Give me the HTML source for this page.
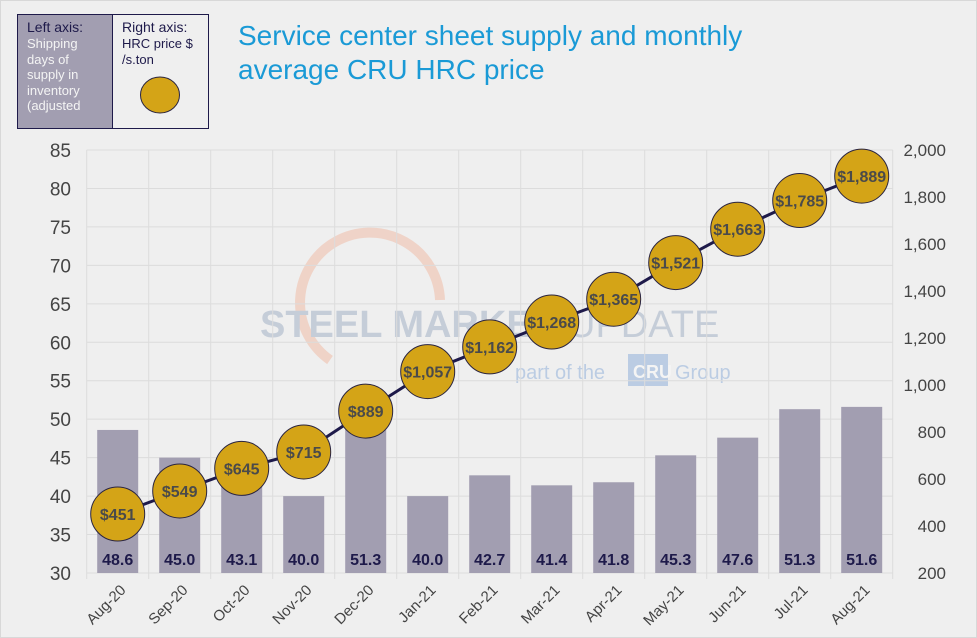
<!DOCTYPE html>
<html><head><meta charset="utf-8"><style>
body{margin:0;background:#efefef;width:977px;height:638px;overflow:hidden;font-family:"Liberation Sans",sans-serif}
</style></head><body>
<svg width="977" height="638" xmlns="http://www.w3.org/2000/svg" style="position:absolute;left:0;top:0">
<rect x="0.5" y="0.5" width="976" height="637" fill="#efefef" stroke="#d8d8d8"/>
<g>
<rect x="17.5" y="14.5" width="95" height="114" fill="#a29eb1" stroke="#1e1a4a"/>
<rect x="112.5" y="14.5" width="96" height="114" fill="#efefef" stroke="#1e1a4a"/>
<text x="27" y="32" font-size="14" fill="#1e1a4a">Left axis:</text>
<text font-size="13" fill="#f4f4f4"><tspan x="27" y="48">Shipping</tspan><tspan x="27" y="64">days of</tspan><tspan x="27" y="79">supply in</tspan><tspan x="27" y="95">inventory</tspan><tspan x="27" y="110">(adjusted</tspan></text>
<text x="122" y="32" font-size="14" fill="#1e1a4a">Right axis:</text>
<text font-size="13" fill="#1e1a4a"><tspan x="122" y="48">HRC  price $</tspan><tspan x="122" y="64">/s.ton</tspan></text>
<ellipse cx="160" cy="95" rx="19.5" ry="18" fill="#d4a417" stroke="#2a2440"/>
</g>
<text font-size="28" fill="#1a9ad6"><tspan x="238" y="45">Service center sheet supply and monthly</tspan><tspan x="238" y="79">average CRU HRC price</tspan></text>
<g opacity="0.35">
<path d="M330 360 A70 70 0 1 1 440 300" fill="none" stroke="#f0a080" stroke-width="10"/>
<text x="260" y="337" font-size="38" font-weight="bold" fill="#7a8fb0">STEEL MARKET</text>
<text x="568" y="337" font-size="38" fill="#7a8fb0">UPDATE</text>
<text x="515" y="379" font-size="20" fill="#5c8ecf">part of the</text>
<rect x="628" y="354" width="40" height="32" fill="#5c8ecf"/>
<text x="633" y="378" font-size="18" font-weight="bold" fill="#fff">CRU</text>
<text x="675" y="379" font-size="20" fill="#5c8ecf">Group</text>
</g>
<g id="grid"></g><g id="bars"></g><g id="line"></g><g id="axes"></g>
</svg>
<script>
const categories=["Aug-20","Sep-20","Oct-20","Nov-20","Dec-20","Jan-21","Feb-21","Mar-21","Apr-21","May-21","Jun-21","Jul-21","Aug-21"];
const daysSupply=[48.6,45.0,43.1,40.0,51.3,40.0,42.7,41.4,41.8,45.3,47.6,51.3,51.6];
const hrcPrice=[451,549,645,715,889,1057,1162,1268,1365,1521,1663,1785,1889];
const leftTicks=[30,35,40,45,50,55,60,65,70,75,80,85];
const rightTicks=[200,400,600,800,1000,1200,1400,1600,1800,2000];
const NS="http://www.w3.org/2000/svg";
const X0=86.7,STEP=62,Y0=573,Y1=150;
const xC=i=>X0+STEP*(i+0.5);
const yL=v=>Y0-(v-30)/55*(Y0-Y1);
const yR=v=>Y0-(v-200)/1800*(Y0-Y1);
function mk(p,t,a){const e=document.createElementNS(NS,t);for(const k in a)e.setAttribute(k,a[k]);p.appendChild(e);return e;}
const grid=document.getElementById('grid'),bars=document.getElementById('bars'),line=document.getElementById('line'),axes=document.getElementById('axes');
leftTicks.forEach(v=>{const l=mk(grid,'line',{x1:X0,x2:X0+STEP*13,y1:yL(v),y2:yL(v),stroke:'#dcdcdc'});


const t=mk(axes,'text',{x:71,y:yL(v)+7,'font-size':19,fill:'#444','text-anchor':'end'});t.textContent=v;

});
rightTicks.forEach(v=>{const t=mk(axes,'text',{x:946,y:yR(v)+6,'font-size':17,fill:'#444','text-anchor':'end'});t.textContent=v.toLocaleString('en-US');

});
for(let i=0;i<=13;i++){const l=mk(grid,'line',{x1:X0+STEP*i,x2:X0+STEP*i,y1:Y1,y2:Y0+6,stroke:'#dcdcdc'});

}
categories.forEach((c,i)=>{
const b=mk(bars,'rect',{x:xC(i)-20.5,y:yL(daysSupply[i]),width:41,height:Y0-yL(daysSupply[i]),fill:'#a29eb1'});


const t=mk(bars,'text',{x:xC(i),y:565,'font-size':16,'font-weight':'bold',fill:'#1e1a4a','text-anchor':'middle'});t.textContent=daysSupply[i].toFixed(1);


const xl=mk(axes,'text',{x:xC(i)+9,y:591,'font-size':15,fill:'#444','text-anchor':'end',transform:`rotate(-45 ${xC(i)+9} 591)`});xl.textContent=c;

});
const pl=mk(line,'polyline',{points:hrcPrice.map((v,i)=>xC(i)+','+yR(v)).join(' '),fill:'none',stroke:'#1e1a4a','stroke-width':3});


hrcPrice.forEach((v,i)=>{const c=mk(line,'circle',{cx:xC(i),cy:yR(v),r:27,fill:'#d4a417',stroke:'#2a2440','stroke-width':1});


const t=mk(line,'text',{x:xC(i),y:yR(v)+6,'font-size':16,'font-weight':'bold',fill:'#4a4a4a','text-anchor':'middle'});t.textContent='$'+v.toLocaleString('en-US');

});
</script>
</body></html>
